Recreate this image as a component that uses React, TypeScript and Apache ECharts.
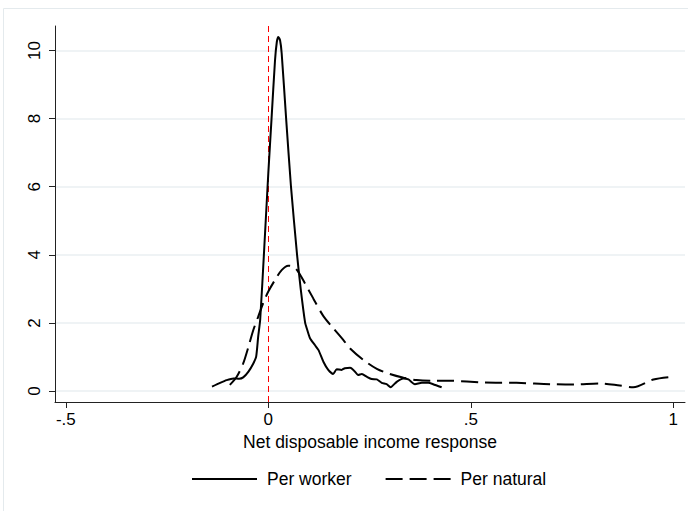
import React, { useEffect, useRef } from "react";
import * as echarts from "echarts";

const workerX = [-0.139, -0.119, -0.103, -0.086, -0.072, -0.062, -0.049, -0.037, -0.03, -0.025, -0.02, -0.01, 0.0, 0.008, 0.0165, 0.021, 0.0247, 0.029, 0.033, 0.044, 0.056, 0.071, 0.08, 0.091, 0.096, 0.103, 0.115, 0.124, 0.136, 0.148, 0.16, 0.169, 0.181, 0.189, 0.202, 0.21, 0.222, 0.231, 0.243, 0.255, 0.268, 0.28, 0.292, 0.302, 0.317, 0.333, 0.346, 0.362, 0.379, 0.395, 0.407, 0.428];
const workerY = [0.13, 0.24, 0.32, 0.37, 0.36, 0.4, 0.57, 0.81, 1.01, 1.6, 2.1, 4.2, 6.4, 8.0, 9.7, 10.25, 10.4, 10.3, 9.92, 8.0, 6.0, 4.0, 3.0, 2.0, 1.8, 1.55, 1.35, 1.2, 0.86, 0.62, 0.5, 0.64, 0.62, 0.67, 0.68, 0.62, 0.47, 0.5, 0.42, 0.35, 0.34, 0.24, 0.2, 0.11, 0.27, 0.37, 0.34, 0.2, 0.24, 0.24, 0.2, 0.11];

const naturalX = [-0.095, -0.078, -0.062, -0.049, -0.037, -0.025, -0.012, 0.0, 0.0165, 0.033, 0.049, 0.062, 0.074, 0.0906, 0.111, 0.136, 0.16, 0.185, 0.202, 0.235, 0.268, 0.3, 0.334, 0.366, 0.407, 0.449, 0.531, 0.613, 0.696, 0.753, 0.819, 0.868, 0.901, 0.951, 1.0];
const naturalY = [0.18, 0.42, 0.81, 1.3, 1.79, 2.18, 2.6, 2.92, 3.26, 3.55, 3.68, 3.65, 3.5, 3.16, 2.72, 2.2, 1.85, 1.5, 1.25, 0.91, 0.65, 0.5, 0.39, 0.32, 0.3, 0.3, 0.25, 0.24, 0.2, 0.19, 0.22, 0.16, 0.11, 0.34, 0.42];

const xTicks = [-0.5, 0, 0.5, 1];
const yTicks = [0, 2, 4, 6, 8, 10];
const refLineX = 0;

const seriesNames = ["Per worker", "Per natural"];
const xTitle = "Net disposable income response";

const FONT = "'Liberation Sans', Arial, Helvetica, sans-serif";

function fmtX(v: number): string {
  if (v === 0) return "0";
  return String(v).replace("0.", ".");
}

export default function App() {
  const ref = useRef<HTMLDivElement>(null);
  useEffect(() => {
    if (!ref.current) return;
    const chart = echarts.init(ref.current, null, { renderer: "svg" });
    const workerData = workerX.map((x, i) => [x, workerY[i]]);
    const naturalData = naturalX.map((x, i) => [x, naturalY[i]]);
    chart.setOption({
      animation: false,
      backgroundColor: "#ffffff",
      textStyle: { fontFamily: FONT },
      graphic: [
        {
          type: "rect",
          shape: { x: 3.5, y: 8.5, width: 720, height: 540 },
          style: { fill: "none", stroke: "#e4eaed", lineWidth: 1 },
          silent: true,
          z: -10,
        },
      ],
      grid: { left: 55, right: 3, top: 26, bottom: 109, containLabel: false },
      legend: {
        show: true,
        top: 465,
        left: 186,
        itemWidth: 65,
        itemHeight: 14,
        itemGap: 33,
        itemStyle: { opacity: 0 },
        textStyle: { fontSize: 17.5, color: "#000", fontFamily: FONT, padding: [0, 0, 0, 5] },
        data: seriesNames,
      },
      xAxis: {
        type: "value",
        min: -0.5267,
        max: 1.0289,
        name: xTitle,
        nameLocation: "middle",
        nameGap: 29,
        nameTextStyle: { fontSize: 17.5, color: "#000", fontFamily: FONT },
        axisLine: { show: true, onZero: false, lineStyle: { color: "#222", width: 1 } },
        axisTick: { show: true, customValues: xTicks, length: 6, lineStyle: { color: "#222", width: 1 } },
        axisLabel: {
          show: true,
          customValues: xTicks,
          margin: 9,
          fontSize: 17,
          color: "#000",
          fontFamily: FONT,
          formatter: (v: number) => fmtX(v),
        },
        splitLine: { show: false },
      },
      yAxis: {
        type: "value",
        min: -0.323,
        max: 10.72,
        axisLine: { show: true, onZero: false, lineStyle: { color: "#222", width: 1 } },
        axisTick: { show: true, customValues: yTicks, length: 6, lineStyle: { color: "#222", width: 1 } },
        axisLabel: {
          show: true,
          customValues: yTicks,
          rotate: 90,
          margin: 12,
          fontSize: 17,
          color: "#000",
          fontFamily: FONT,
        },
        splitLine: { show: true, lineStyle: { color: "#eaeff2", width: 1.5 } },
      },
      series: [
        {
          name: seriesNames[0],
          type: "line",
          data: workerData,
          symbol: "none",
          smooth: 0.2,
          lineStyle: { color: "#000", width: 2, type: "solid" },
          itemStyle: { color: "#000" },
          z: 3,
          markLine: {
            silent: true,
            symbol: ["none", "none"],
            label: { show: false },
            lineStyle: { color: "#ff0000", type: [6, 4], width: 1 },
            data: [{ xAxis: refLineX }],
            z: 2,
          },
        },
        {
          name: seriesNames[1],
          type: "line",
          data: naturalData,
          symbol: "none",
          smooth: 0.3,
          lineStyle: { color: "#000", width: 2, type: [17, 7] },
          itemStyle: { color: "#000" },
          z: 3,
        },
      ],
    });
    return () => chart.dispose();
  }, []);
  return (
    <div
      ref={ref}
      style={{ position: "fixed", left: 0, top: 0, width: 688, height: 511 }}
    />
  );
}
